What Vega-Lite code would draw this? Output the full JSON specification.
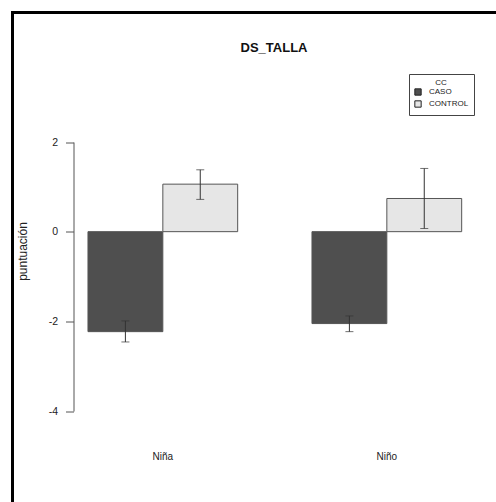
{
  "$schema": "https://vega.github.io/schema/vega-lite/v6.json",
  "width": 490,
  "height": 496,
  "autosize": {"type": "none"},
  "padding": {"left": 12.5, "top": 12.5, "right": 0, "bottom": 0},
  "background": "white",
  "title": {"text": "DS_TALLA", "fontSize": 13, "fontWeight": "bold", "color": "#111", "anchor": "middle", "offset": -42, "dx": 16.5},
  "data": {"values": [
    {"sexo": "Niña", "cc": "CASO", "mean": -2.23, "lo": -2.46, "hi": -1.99},
    {"sexo": "Niña", "cc": "CONTROL", "mean": 1.06, "lo": 0.72, "hi": 1.38},
    {"sexo": "Niño", "cc": "CASO", "mean": -2.05, "lo": -2.23, "hi": -1.88},
    {"sexo": "Niño", "cc": "CONTROL", "mean": 0.74, "lo": 0.07, "hi": 1.41}
  ]},
  "encoding": {
    "x": {"field": "sexo", "type": "nominal", "sort": ["Niña", "Niño"],
      "scale": {"paddingInner": 0.3317, "paddingOuter": 0.2596, "align": 0.649},
      "axis": {"title": null, "domain": false, "ticks": false, "tickSize": 0, "labelPadding": 0, "offset": -52.5, "labelFontSize": 10, "labelColor": "#222", "labelAngle": 0, "labelBaseline": "middle"}},
    "xOffset": {"field": "cc", "type": "nominal", "sort": ["CASO", "CONTROL"], "scale": {"paddingInner": 0, "paddingOuter": 0}}
  },
  "layer": [
    {
      "mark": {"type": "bar", "stroke": "#555", "strokeWidth": 1},
      "encoding": {
        "y": {"field": "mean", "type": "quantitative",
          "scale": {"domain": [-4, 2], "range": [398.5, 129.5], "nice": false, "zero": false},
          "axis": {"title": "puntuación", "values": [-4, -2, 0, 2], "labelExpr": "'' + datum.value", "grid": false, "offset": -61, "domainColor": "#555", "tickColor": "#555", "tickSize": 8, "labelPadding": 8, "labelFontSize": 10.5, "labelColor": "#222", "titleFontSize": 12, "titleFontWeight": "normal", "titleColor": "#222", "titleX": -51.5, "titleY": 238.5, "titleAlign": "center", "titleBaseline": "middle", "titleAngle": -90}},
        "y2": {"datum": 0},
        "fill": {"field": "cc", "type": "nominal",
          "scale": {"domain": ["CASO", "CONTROL"], "range": ["#4f4f4f", "#e6e6e6"]},
          "legend": {"orient": "none", "legendX": 396.5, "legendY": 61.5, "title": "CC", "titleFontSize": 8, "titleFontWeight": "normal", "titleAnchor": "middle", "titleColor": "#222", "labelFontSize": 8, "labelColor": "#222", "symbolType": "square", "symbolSize": 40, "symbolStrokeColor": "#222", "symbolStrokeWidth": 1, "strokeColor": "#444", "fillColor": "white", "padding": 5, "rowPadding": 0, "titlePadding": 1, "labelOffset": 7}}
      }
    },
    {
      "mark": {"type": "rule", "color": "#333", "strokeWidth": 1},
      "encoding": {"y": {"field": "lo", "type": "quantitative"}, "y2": {"field": "hi"}}
    },
    {
      "mark": {"type": "tick", "orient": "horizontal", "size": 8, "thickness": 1, "color": "#333"},
      "encoding": {"y": {"field": "lo", "type": "quantitative"}}
    },
    {
      "mark": {"type": "tick", "orient": "horizontal", "size": 8, "thickness": 1, "color": "#333"},
      "encoding": {"y": {"field": "hi", "type": "quantitative"}}
    }
  ],
  "config": {
    "font": "Liberation Sans",
    "view": {"stroke": "#000", "strokeWidth": 3}
  }
}
